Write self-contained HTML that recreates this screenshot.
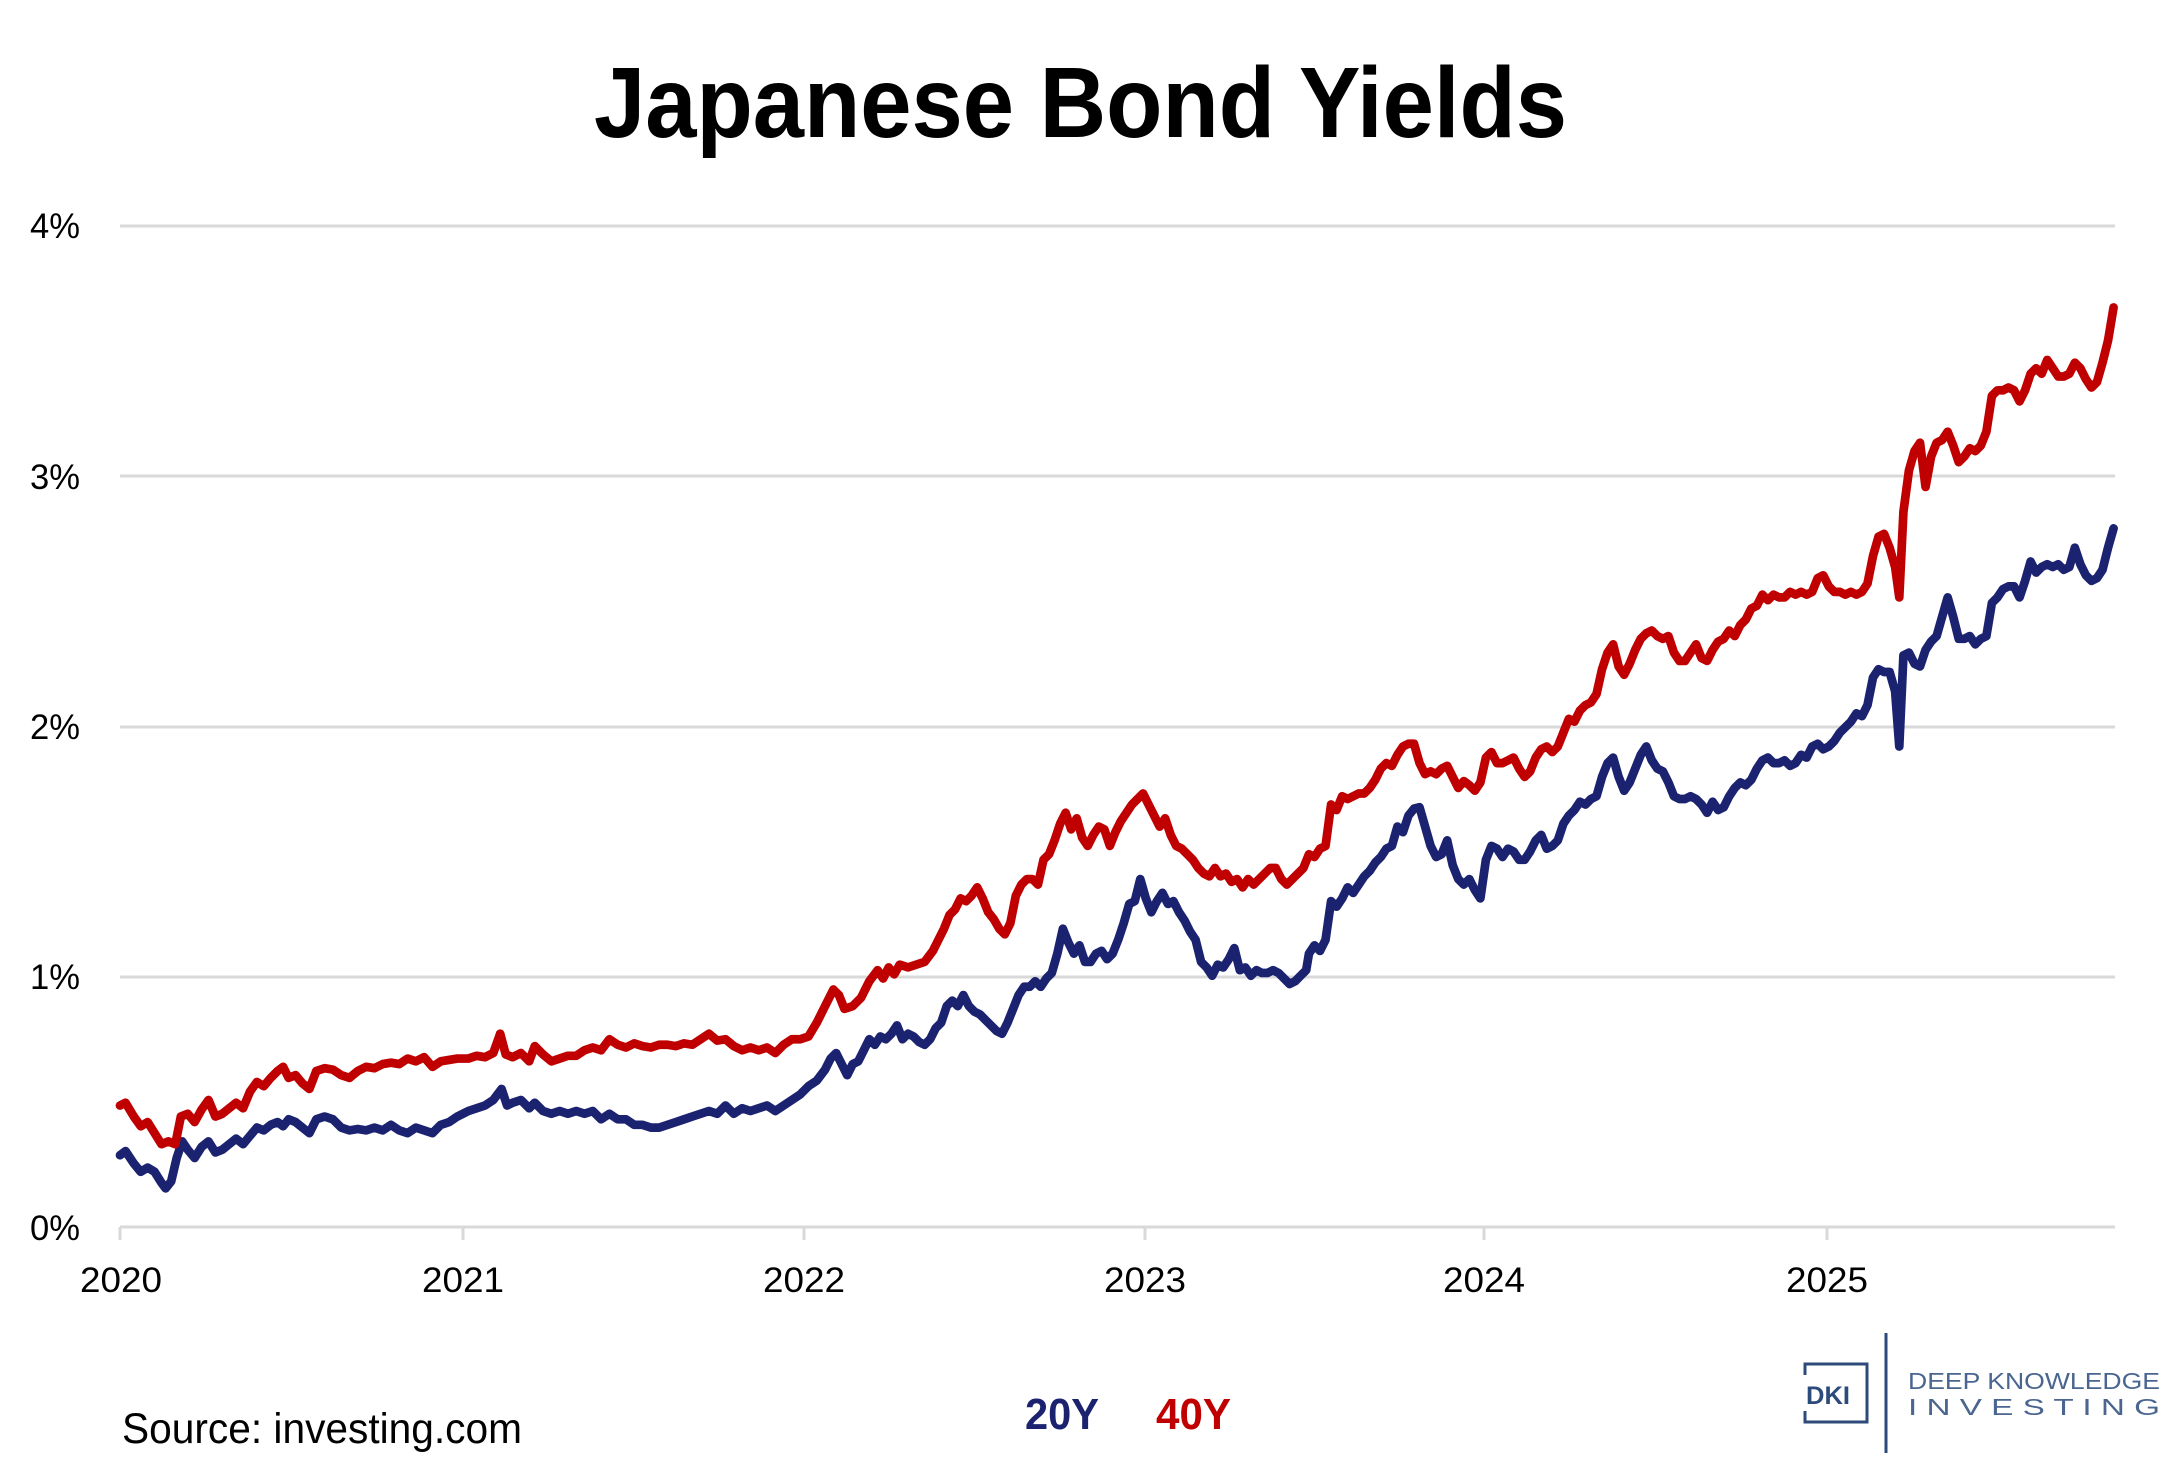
<!DOCTYPE html>
<html><head><meta charset="utf-8"><style>
html,body{margin:0;padding:0;background:#fff;}
svg{display:block;}
text{font-family:"Liberation Sans",sans-serif;}
</style></head><body>
<svg width="2166" height="1463" viewBox="0 0 2166 1463" xmlns="http://www.w3.org/2000/svg">
<rect width="2166" height="1463" fill="#fff"/>
<text x="594" y="137" font-size="100" font-weight="bold" textLength="973" lengthAdjust="spacingAndGlyphs" fill="#000">Japanese Bond Yields</text>
<g stroke="#d9d9d9" stroke-width="3">
<line x1="120" y1="226" x2="2115" y2="226"/>
<line x1="120" y1="476" x2="2115" y2="476"/>
<line x1="120" y1="727" x2="2115" y2="727"/>
<line x1="120" y1="977" x2="2115" y2="977"/>
<line x1="120" y1="1227" x2="2115" y2="1227"/>
<line x1="120" y1="1227" x2="120" y2="1240"/>
<line x1="463" y1="1227" x2="463" y2="1240"/>
<line x1="804" y1="1227" x2="804" y2="1240"/>
<line x1="1145" y1="1227" x2="1145" y2="1240"/>
<line x1="1484" y1="1227" x2="1484" y2="1240"/>
<line x1="1827" y1="1227" x2="1827" y2="1240"/>
</g>
<g font-size="35" fill="#000">
<text x="30" y="238" textLength="50" lengthAdjust="spacingAndGlyphs">4%</text>
<text x="30" y="489" textLength="50" lengthAdjust="spacingAndGlyphs">3%</text>
<text x="30" y="739" textLength="50" lengthAdjust="spacingAndGlyphs">2%</text>
<text x="30" y="989" textLength="50" lengthAdjust="spacingAndGlyphs">1%</text>
<text x="30" y="1240" textLength="50" lengthAdjust="spacingAndGlyphs">0%</text>
</g>
<g font-size="35" fill="#000" text-anchor="middle">
<text x="121" y="1292" textLength="82" lengthAdjust="spacingAndGlyphs">2020</text>
<text x="463" y="1292" textLength="82" lengthAdjust="spacingAndGlyphs">2021</text>
<text x="804" y="1292" textLength="82" lengthAdjust="spacingAndGlyphs">2022</text>
<text x="1145" y="1292" textLength="82" lengthAdjust="spacingAndGlyphs">2023</text>
<text x="1484" y="1292" textLength="82" lengthAdjust="spacingAndGlyphs">2024</text>
<text x="1827" y="1292" textLength="82" lengthAdjust="spacingAndGlyphs">2025</text>
</g>
<g transform="translate(120,226) scale(1.3825,1.3807) translate(-88,-163)" fill="none" stroke-linejoin="round" stroke-linecap="round" stroke-width="6.3">
<polyline stroke="#1b2370" points="88,836 92,833 98,842 103,848 108,845 113,848 118,856 121,860 125,855 129,838 133,826 137,832 142,838 147,830 152,826 157,834 162,832 167,828 172,824 177,828 182,822 187,816 192,818 197,814 202,812 206,815 210,810 215,812 220,816 225,820 230,810 236,808 242,810 248,816 254,818 260,817 266,818 272,816 278,818 284,814 290,818 296,820 302,816 308,818 314,820 320,814 326,812 332,808 340,804 346,802 352,800 358,796 364,788 368,800 372,798 378,796 384,802 388,798 394,804 400,806 406,804 412,806 418,804 424,806 430,804 436,810 442,806 448,810 454,810 460,814 466,814 472,816 478,816 484,814 490,812 496,810 502,808 508,806 514,804 520,806 526,800 532,806 538,802 544,804 550,802 556,800 562,804 568,800 574,796 580,792 586,786 592,782 598,774 602,766 606,762 610,770 614,778 618,770 622,768 626,760 630,752 634,756 638,750 642,752 646,748 650,742 654,752 658,748 662,750 666,754 670,756 674,752 678,744 682,740 686,728 690,724 694,728 698,720 702,728 706,732 710,734 714,738 718,742 722,746 726,748 730,740 734,730 738,720 742,714 746,714 750,710 754,714 758,708 762,704 766,690 770,672 774,682 778,690 782,684 786,696 790,696 794,690 798,688 802,694 806,690 810,680 814,668 818,654 822,652 826,636 830,650 834,660 838,652 842,646 846,654 850,652 854,660 858,666 862,674 866,680 870,696 874,700 878,706 882,698 886,700 890,694 894,686 898,702 902,700 906,706 910,702 914,704 918,704 922,702 926,704 930,708 934,712 938,710 942,706 946,702 948,690 952,684 956,688 960,680 964,652 968,656 972,650 976,642 980,646 984,640 988,634 992,630 996,624 1000,620 1004,614 1008,612 1012,598 1016,602 1020,590 1024,585 1028,584 1032,598 1036,612 1040,620 1044,618 1048,608 1052,626 1056,636 1060,640 1064,636 1068,644 1072,650 1076,622 1080,612 1084,614 1088,620 1092,614 1096,616 1100,622 1104,622 1108,616 1112,608 1116,604 1120,614 1124,612 1128,608 1132,596 1136,590 1140,586 1144,580 1148,582 1152,578 1156,576 1160,562 1164,552 1168,548 1172,562 1176,572 1180,566 1184,556 1188,546 1192,540 1196,550 1200,556 1204,558 1208,566 1212,576 1216,578 1220,578 1224,576 1228,578 1232,582 1236,588 1240,580 1244,586 1248,584 1252,576 1256,570 1260,566 1264,568 1268,564 1272,556 1276,550 1280,548 1284,552 1288,552 1292,550 1296,554 1300,552 1304,546 1308,548 1312,540 1316,538 1320,542 1324,540 1328,536 1332,530 1336,526 1340,522 1344,516 1348,518 1352,510 1356,490 1360,484 1364,486 1368,486 1372,500 1375,540 1378,474 1382,472 1386,480 1390,482 1394,470 1398,464 1402,460 1406,446 1410,432 1414,446 1418,462 1422,462 1426,460 1430,466 1434,462 1438,460 1442,436 1446,432 1450,426 1454,424 1458,424 1462,432 1466,420 1470,406 1474,414 1478,410 1482,408 1486,410 1490,408 1494,412 1498,410 1502,396 1506,408 1510,416 1514,420 1518,418 1522,412 1526,396 1530,382"/>
<polyline stroke="#c00000" points="88,800 92,798 98,808 103,815 108,812 113,820 118,828 123,826 128,828 132,808 137,806 142,812 147,803 152,796 157,808 162,806 167,802 172,798 177,802 182,790 187,783 192,786 197,780 202,775 206,772 210,780 215,778 220,784 225,788 230,775 236,773 242,774 248,778 254,780 260,775 266,772 272,773 278,770 284,769 290,770 296,766 302,768 308,765 314,772 320,768 326,767 332,766 340,766 346,764 352,765 358,762 363,748 367,763 372,765 378,762 384,768 388,757 394,763 400,768 406,766 412,764 418,764 424,760 430,758 436,760 442,752 448,756 454,758 460,755 466,757 472,758 478,756 484,756 490,757 496,755 502,756 508,752 514,748 520,753 526,752 532,757 538,760 544,758 550,760 556,758 562,762 568,756 574,752 580,752 586,750 592,740 598,728 604,716 608,720 612,730 618,728 624,722 630,710 636,702 640,708 644,700 648,705 652,698 658,700 664,698 670,696 676,688 680,680 684,672 688,662 692,658 696,650 700,652 704,648 708,642 712,650 716,660 720,665 724,672 728,676 732,668 736,648 740,640 744,636 748,636 752,640 756,622 760,618 764,608 768,596 772,588 776,600 780,592 784,606 788,612 792,604 796,598 800,600 804,612 808,602 812,594 816,588 820,582 824,578 828,574 832,582 836,590 840,598 844,592 848,604 852,612 856,614 860,618 864,622 868,628 872,632 876,634 880,628 884,634 888,632 892,638 896,636 900,642 904,636 908,640 912,636 916,632 920,628 924,628 928,636 932,640 936,636 940,632 944,628 948,618 952,620 956,614 960,612 964,582 968,586 972,576 976,578 980,576 984,574 988,574 992,570 996,564 1000,556 1004,552 1008,554 1012,546 1016,540 1020,538 1024,538 1028,552 1032,560 1036,558 1040,560 1044,556 1048,554 1052,562 1056,570 1060,565 1064,568 1068,572 1072,566 1076,548 1080,544 1084,552 1088,552 1092,550 1096,548 1100,556 1104,562 1108,558 1112,548 1116,542 1120,540 1124,544 1128,540 1132,530 1136,520 1140,522 1144,514 1148,510 1152,508 1156,502 1160,484 1164,472 1168,466 1172,482 1176,488 1180,480 1184,470 1188,462 1192,458 1196,456 1200,460 1204,462 1208,460 1212,472 1216,478 1220,478 1224,472 1228,466 1232,476 1236,478 1240,470 1244,464 1248,462 1252,456 1256,460 1260,452 1264,448 1268,440 1272,438 1276,430 1280,434 1284,430 1288,432 1292,432 1296,428 1300,430 1304,428 1308,430 1312,428 1316,418 1320,416 1324,424 1328,428 1332,428 1336,430 1340,428 1344,430 1348,428 1352,422 1356,402 1360,388 1364,386 1368,396 1372,410 1375,432 1378,370 1382,340 1386,326 1390,320 1394,352 1398,330 1402,320 1406,318 1410,312 1414,322 1418,334 1422,330 1426,324 1430,326 1434,322 1438,312 1442,286 1446,282 1450,282 1454,280 1458,282 1462,290 1466,282 1470,270 1474,266 1478,270 1482,260 1486,266 1490,272 1494,272 1498,270 1502,262 1506,266 1510,274 1514,280 1518,276 1522,262 1526,246 1530,222"/>
</g>
<text x="122" y="1443" font-size="43" textLength="400" lengthAdjust="spacingAndGlyphs" fill="#000">Source: investing.com</text>
<text x="1025" y="1429" font-size="44" font-weight="bold" textLength="74" lengthAdjust="spacingAndGlyphs" fill="#1b2370">20Y</text>
<text x="1156" y="1429" font-size="44" font-weight="bold" textLength="75" lengthAdjust="spacingAndGlyphs" fill="#c00000">40Y</text>
<g fill="none" stroke="#2c4a7a">
<rect x="1805" y="1364" width="62" height="58" stroke-width="3"/>
<line x1="1886" y1="1333" x2="1886" y2="1453" stroke-width="3"/>
</g>
<rect x="1800" y="1375" width="10" height="36" fill="#fff"/>
<text x="1806" y="1404" font-size="25" font-weight="bold" fill="#2c4a7a" textLength="44" lengthAdjust="spacingAndGlyphs">DKI</text>
<text x="1908" y="1389" font-size="23" fill="#4a6590" textLength="252" lengthAdjust="spacingAndGlyphs">DEEP KNOWLEDGE</text>
<text x="1908" y="1415" font-size="23" fill="#4a6590" textLength="252" lengthAdjust="spacingAndGlyphs">I N V E S T I N G</text>
</svg>
</body></html>
